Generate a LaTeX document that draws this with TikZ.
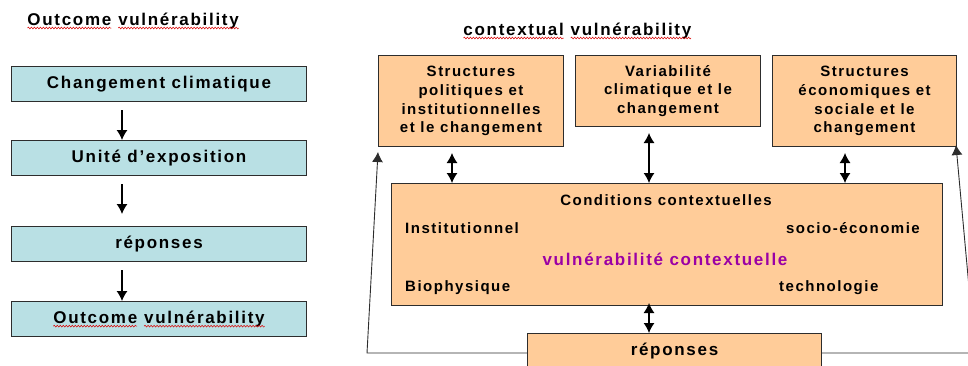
\documentclass[tikz,border=0pt]{standalone}
\usepackage{fontspec}
\setmainfont{Liberation Sans}[LetterSpace=10]
\usetikzlibrary{arrows.meta,decorations.pathmorphing}
\definecolor{blueF}{RGB}{185,224,228}
\definecolor{orF}{RGB}{255,204,153}
\definecolor{purp}{RGB}{155,0,165}
\definecolor{edge}{RGB}{45,45,45}
\newcommand\fbig{\bfseries\fontsize{17}{20}\selectfont}
\newcommand\fsm{\bfseries\fontsize{15}{18.7}\selectfont}
\newcommand\squig[1]{\tikz[baseline=(sqw.base)]{\node[inner sep=0pt,outer sep=0pt,draw=none,fill=none,minimum width=0pt,minimum height=0pt,anchor=base] (sqw) {#1};\draw[red!85!black,line width=0.5pt,decorate,decoration={snake,amplitude=0.9pt,segment length=3pt}] ([yshift=-3pt]sqw.base west) -- ([yshift=-3pt]sqw.base east);}}
\begin{document}
\begin{tikzpicture}[x=1pt,y=-1pt,
  every node/.style={inner sep=0pt},
  bluebox/.style={draw=edge,fill=blueF,line width=1pt,minimum width=295pt,minimum height=35pt,anchor=north west,font=\fbig},
  orbox/.style={draw=edge,fill=orF,line width=1pt,anchor=north west,align=center,font=\fsm},
  txt/.style={font=\fsm},
  tip/.tip={Latex[length=10pt,width=11pt]},
  arr/.style={-tip,line width=1.1pt},
  darr/.style={tip-tip,line width=1.1pt},
  fb/.style={line width=0.9pt,draw=edge},
]
\useasboundingbox (0,0) rectangle (968,365);
% left column
\node[anchor=base west,font=\fbig] (t1) at (27,25) {\squig{Outcome} \squig{vulnérability}};
\node[bluebox] (b1) at (11,66) {Changement climatique};
\node[bluebox] (b2) at (11,140) {Unité d’exposition};
\node[bluebox] (b3) at (11,226) {réponses};
\node[bluebox] (b4) at (11,301) {\squig{Outcome} \squig{vulnérability}};
\coordinate (ax) at (122,0);
\draw[arr,shorten <=8pt] (b1.south -| ax) -- (b2.north -| ax);
\draw[arr,shorten <=8pt,shorten >=12pt] (b2.south -| ax) -- (b3.north -| ax);
\draw[arr,shorten <=8pt] (b3.south -| ax) -- (b4.north -| ax);
% right part
\node[anchor=base west,font=\fbig] (t2) at (463,35) {\squig{contextual} \squig{vulnérability}};
\node[orbox,minimum width=185pt,minimum height=91pt] (sA) at (378,55) {Structures\\politiques et\\institutionnelles\\et le changement};
\node[orbox,minimum width=185pt,minimum height=71pt] (sB) at (575,55) {Variabilité\\climatique et le\\changement};
\node[orbox,minimum width=184pt,minimum height=91pt] (sC) at (772,55) {Structures\\économiques et\\sociale et le\\changement};
\node[orbox,minimum width=551pt,minimum height=122pt] (cc) at (391,183) {};
\node[orbox,font=\fbig,minimum width=294pt,minimum height=36pt] (rep) at (527,333) {réponses};
\node[txt] (cond) at (666,200) {Conditions contextuelles};
\node[txt,anchor=west] (inst) at (405,228) {Institutionnel};
\node[txt,anchor=east] (socio) at (920,228) {socio-économie};
\node[font=\fbig,text=purp] (vc) at (665,259) {vulnérabilité contextuelle};
\node[txt,anchor=west] (bio) at (405,288) {Biophysique};
\node[txt,anchor=west] (tech) at (779,288) {technologie};
\coordinate (xa) at (452,0);
\coordinate (xb) at (649,0);
\coordinate (xc) at (845,0);
\draw[darr,shorten <=6pt] (sA.south -| xa) -- (cc.north -| xa);
\draw[darr,shorten <=6pt] (sB.south -| xb) -- (cc.north -| xb);
\draw[darr,shorten <=6pt] (sC.south -| xc) -- (cc.north -| xc);
\draw[darr,shorten <=-3pt] (cc.south -| xb) -- (rep.north -| xb);
% feedback loop
\coordinate (fl) at (367,353);
\coordinate (fr) at (975,353);
\draw[fb,arr,line width=0.9pt] (rep.west |- fl) -- (fl) -- ([yshift=-5pt]sA.south west);
\draw[fb,arr,line width=0.9pt] (rep.east |- fr) -- (fr) -- ([xshift=-1pt,yshift=2pt]sC.south east);
\end{tikzpicture}
\end{document}
